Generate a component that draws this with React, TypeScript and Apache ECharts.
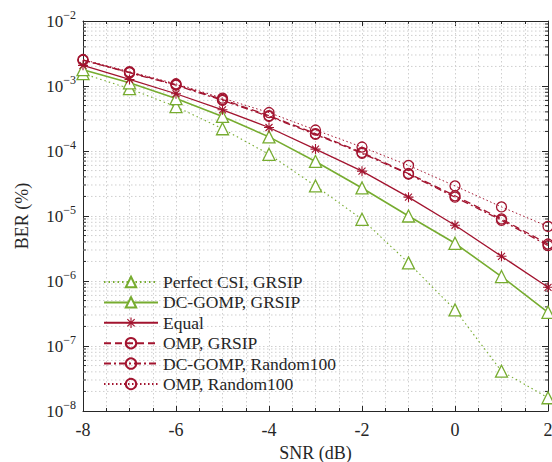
import React, { useEffect, useRef } from "react";
import * as echarts from "echarts";

const snr = [-8, -7, -6, -5, -4, -3, -2, -1, 0, 1, 2];
const perfectCsiGrsip = [1.55e-3, 9.1e-4, 4.8e-4, 2.2e-4, 8.9e-5, 2.9e-5, 8.9e-6, 1.9e-6, 3.6e-7, 4.1e-8, 1.6e-8];
const dcGompGrsip = [1.78e-3, 1.12e-3, 6.4e-4, 3.4e-4, 1.65e-4, 6.9e-5, 2.7e-5, 1.0e-5, 3.8e-6, 1.17e-6, 3.3e-7];
const equal = [2.08e-3, 1.26e-3, 7.6e-4, 4.3e-4, 2.3e-4, 1.07e-4, 4.9e-5, 1.95e-5, 7.2e-6, 2.4e-6, 8.0e-7];
const ompGrsip = [2.5e-3, 1.62e-3, 1.05e-3, 6.2e-4, 3.5e-4, 1.85e-4, 9.5e-5, 4.5e-5, 2.05e-5, 9.0e-6, 3.7e-6];
const dcGompRandom100 = [2.5e-3, 1.6e-3, 1.03e-3, 6.0e-4, 3.4e-4, 1.8e-4, 9.2e-5, 4.4e-5, 1.95e-5, 8.6e-6, 3.5e-6];
const ompRandom100 = [2.55e-3, 1.66e-3, 1.08e-3, 6.5e-4, 3.9e-4, 2.1e-4, 1.15e-4, 6.0e-5, 2.9e-5, 1.38e-5, 6.9e-6];

const seriesNames = [
  "Perfect CSI, GRSIP",
  "DC-GOMP, GRSIP",
  "Equal",
  "OMP, GRSIP",
  "DC-GOMP, Random100",
  "OMP, Random100",
];
const minorMultipliers = [2, 3, 4, 5, 6, 7, 8, 9];

const GREEN = "#77AC30";
const RED = "#A2142F";
const AX = "#262626";
const GRIDC = "#cfcfcf";
const FONT = "Liberation Serif";

const STAR =
  "path://M8.9 0L11.1 0L11.1 20L8.9 20Z M0 8.9L20 8.9L20 11.1L0 11.1Z M3.8 2.2L17.8 16.2L16.2 17.8L2.2 3.8Z M17.8 3.8L3.8 17.8L2.2 16.2L16.2 2.2Z";

export default function App() {
  const ref = useRef<HTMLDivElement>(null);
  useEffect(() => {
    if (!ref.current) return;
    const chart = echarts.init(ref.current, undefined, { renderer: "svg" });
    const pts = (arr: number[]) => snr.map((x, i) => [x, arr[i]]);
    const minorVals: number[][] = [];
    for (let e = -8; e < -2; e++) {
      for (const m of minorMultipliers) minorVals.push([-8, m * Math.pow(10, e)]);
    }
    const hollow = (c: string) => ({ color: "#fff", borderColor: c, borderWidth: 1.3 });
    const legends = seriesNames.map((n, i) => ({
      left: 103,
      top: 272 + i * 20.4,
      orient: "vertical",
      itemWidth: 54,
      itemHeight: 13,
      padding: 0,
      data: [n],
      textStyle: { fontFamily: FONT, fontSize: 17.5, color: AX, lineHeight: 20 },
    }));
    const option: any = {
      animation: false,
      backgroundColor: "#fff",
      textStyle: { fontFamily: FONT, color: AX },
      grid: { left: 83, right: 4, top: 21, bottom: 51, containLabel: false, outerBoundsMode: "none" },
      legend: legends,
      xAxis: [
        {
          type: "value",
          min: -8,
          max: 2,
          interval: 2,
          name: "SNR (dB)",
          nameLocation: "middle",
          nameGap: 33,
          nameTextStyle: { fontFamily: FONT, fontSize: 18, color: AX, lineHeight: 17 },
          axisLine: { show: true, onZero: false, lineStyle: { color: AX, width: 1 } },
          axisTick: { show: true, inside: true, length: 5, lineStyle: { color: AX } },
          minorTick: { show: true, splitNumber: 4, length: 3, lineStyle: { color: AX } },
          axisLabel: {
            fontFamily: FONT,
            fontSize: 18,
            color: AX,
            margin: 10,
            formatter: (v: number) => (v < 0 ? "-" + Math.abs(v) : String(v)),
          },
          splitLine: { show: true, lineStyle: { color: GRIDC, type: [1.5, 2.5], width: 1 } },
          minorSplitLine: { show: true, lineStyle: { color: GRIDC, type: [1.5, 2.5], width: 1 } },
        },
        {
          type: "value",
          position: "top",
          min: -8,
          max: 2,
          interval: 2,
          axisLine: { show: true, onZero: false, lineStyle: { color: AX, width: 1 } },
          axisTick: { show: true, inside: true, length: 5, lineStyle: { color: AX } },
          minorTick: { show: true, splitNumber: 4, length: 3, lineStyle: { color: AX } },
          axisLabel: { show: false },
          splitLine: { show: false },
        },
      ],
      yAxis: [
        {
          type: "log",
          logBase: 10,
          min: 1e-8,
          max: 1e-2,
          name: "BER (%)",
          nameLocation: "middle",
          nameGap: 52,
          nameTextStyle: { fontFamily: FONT, fontSize: 18, color: AX },
          axisLine: { show: true, onZero: false, lineStyle: { color: AX, width: 1 } },
          axisTick: { show: true, inside: true, length: 6, lineStyle: { color: AX } },
          axisLabel: {
            margin: 7,
            formatter: (v: number) => {
              const e = Math.round(Math.log10(v));
              return "{b|10}{s|\u2212" + Math.abs(e) + "}";
            },
            rich: {
              b: { fontFamily: FONT, fontSize: 17, color: AX, verticalAlign: "middle", lineHeight: 18 },
              s: {
                fontFamily: FONT,
                fontSize: 12,
                color: AX,
                verticalAlign: "middle",
                lineHeight: 12,
                padding: [0, 0, 13, 0],
              },
            },
          },
          splitLine: { show: true, lineStyle: { color: GRIDC, type: [1.5, 2.5], width: 1 } },
        },
        {
          type: "log",
          logBase: 10,
          min: 1e-8,
          max: 1e-2,
          position: "right",
          axisLine: { show: true, onZero: false, lineStyle: { color: AX, width: 1 } },
          axisTick: { show: true, inside: true, length: 6, lineStyle: { color: AX } },
          axisLabel: { show: false },
          splitLine: { show: false },
        },
      ],
      series: [
        {
          type: "custom",
          name: "minor",
          silent: true,
          xAxisIndex: 0,
          yAxisIndex: 0,
          data: minorVals,
          encode: { x: 0, y: 1 },
          z: 1,
          renderItem: (params: any, api: any) => {
            const cs = params.coordSys;
            const y = api.coord([-8, api.value(1)])[1];
            const x0 = cs.x;
            const x1 = cs.x + cs.width;
            return {
              type: "group",
              children: [
                {
                  type: "line",
                  shape: { x1: x0, y1: y, x2: x1, y2: y },
                  style: { stroke: GRIDC, lineWidth: 1, lineDash: [1.5, 2.5] },
                },
                {
                  type: "line",
                  shape: { x1: x0, y1: y, x2: x0 + 3, y2: y },
                  style: { stroke: AX, lineWidth: 1 },
                },
                {
                  type: "line",
                  shape: { x1: x1 - 3, y1: y, x2: x1, y2: y },
                  style: { stroke: AX, lineWidth: 1 },
                },
              ],
            };
          },
        },
        {
          name: seriesNames[0],
          type: "line",
          data: pts(perfectCsiGrsip),
          symbol: "triangle",
          symbolSize: 12,
          lineStyle: { color: GREEN, width: 1.1, type: [1.5, 3] },
          itemStyle: hollow(GREEN),
          color: GREEN,
          z: 3,
        },
        {
          name: seriesNames[1],
          type: "line",
          data: pts(dcGompGrsip),
          symbol: "triangle",
          symbolSize: 12,
          lineStyle: { color: GREEN, width: 1.6, type: "solid" },
          itemStyle: hollow(GREEN),
          color: GREEN,
          z: 3,
        },
        {
          name: seriesNames[2],
          type: "line",
          data: pts(equal),
          symbol: STAR,
          symbolSize: 10,
          lineStyle: { color: RED, width: 1.3, type: "solid" },
          itemStyle: { color: RED },
          color: RED,
          z: 4,
        },
        {
          name: seriesNames[3],
          type: "line",
          data: pts(ompGrsip),
          symbol: "circle",
          symbolSize: 10,
          lineStyle: { color: RED, width: 1.3, type: [7, 4] },
          itemStyle: { color: "rgba(255,255,255,0)", borderColor: RED, borderWidth: 1.3 },
          color: RED,
          z: 4,
        },
        {
          name: seriesNames[4],
          type: "line",
          data: pts(dcGompRandom100),
          symbol: "circle",
          symbolSize: 10,
          lineStyle: { color: RED, width: 1.3, type: [7, 3, 2, 3] },
          itemStyle: { color: "rgba(255,255,255,0)", borderColor: RED, borderWidth: 1.3 },
          color: RED,
          z: 4,
        },
        {
          name: seriesNames[5],
          type: "line",
          data: pts(ompRandom100),
          symbol: "circle",
          symbolSize: 10,
          lineStyle: { color: RED, width: 1, type: [1.5, 2.5] },
          itemStyle: { color: "rgba(255,255,255,0)", borderColor: RED, borderWidth: 1.3 },
          color: RED,
          z: 4,
        },
      ],
    };
    chart.setOption(option);
    return () => chart.dispose();
  }, []);
  return (
    <div style={{ position: "absolute", left: 0, top: 0, width: 552, height: 462 }}>
      <div ref={ref} style={{ width: 552, height: 462 }} />
    </div>
  );
}
